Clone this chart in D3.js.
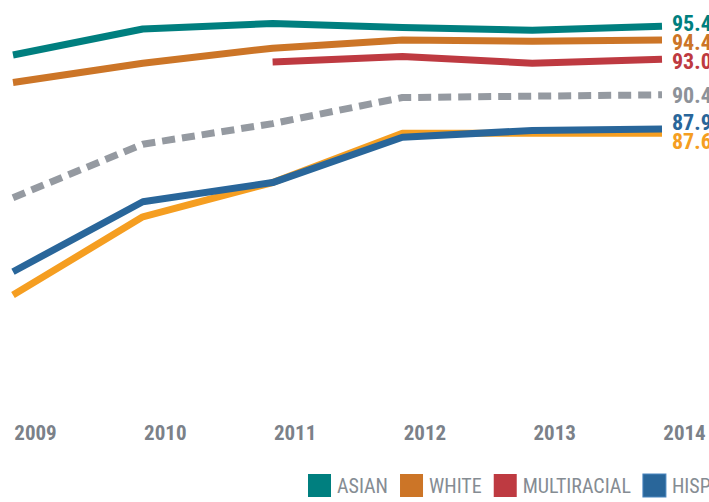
<!DOCTYPE html>
<html>
<head>
<meta charset="utf-8">
<script src="https://cdn.jsdelivr.net/npm/d3@7"></script>
<style>
  html, body { margin: 0; padding: 0; background: #ffffff; }
  svg { display: block; }
  .narrow { font-family: "Liberation Sans Narrow", "Roboto Condensed", "DejaVu Sans Condensed", "Liberation Sans", sans-serif; }
</style>
</head>
<body>
<svg id="chart" width="709" height="502"></svg>
<script>
// School years shown on the x axis
const years = ["2009", "2010", "2011", "2012", "2013", "2014"];

// Rates by student group (percent); null = not reported that year
const asian       = [93.3, 95.2, 95.6, 95.3, 95.1, 95.4];
const white       = [91.3, 92.7, 93.8, 94.4, 94.3, 94.4];
const multiracial = [null, null, 92.8, 93.2, 92.7, 93.0];
const allStudents = [82.9, 86.8, 88.3, 90.2, 90.3, 90.4];
const black       = [75.8, 81.5, 84.0, 87.6, 87.6, 87.6];
const hispanic    = [77.5, 82.6, 84.0, 87.3, 87.8, 87.9];

// Legend entries and colours
const legendNames  = ["ASIAN", "WHITE", "MULTIRACIAL", "HISPANIC"];
const legendColors = ["#007f7f", "#cc7527", "#be3a41", "#29669a"];

const series = [
  { name: "ASIAN",        values: asian,       color: "#007f7f", label: "#007f7f", dashed: false },
  { name: "WHITE",        values: white,       color: "#cc7527", label: "#cc7527", dashed: false },
  { name: "MULTIRACIAL",  values: multiracial, color: "#be3a41", label: "#be3a41", dashed: false },
  { name: "ALL STUDENTS", values: allStudents, color: "#959aa1", label: "#8d9299", dashed: true },
  { name: "BLACK",        values: black,       color: "#f59e21", label: "#f59e21", dashed: false },
  { name: "HISPANIC",     values: hispanic,    color: "#29669a", label: "#29669a", dashed: false }
];

const svg = d3.select("#chart");

const x = d3.scalePoint().domain(years).range([13, 662]);
const y = d3.scaleLinear().domain([75, 96]).range([306, 18]);

const line = d3.line()
  .defined(d => d.v != null)
  .x(d => x(d.year))
  .y(d => y(d.v));

// Lines
svg.append("g")
  .selectAll("path")
  .data(series)
  .join("path")
  .attr("fill", "none")
  .attr("stroke", d => d.color)
  .attr("stroke-width", 7)
  .attr("stroke-linejoin", "round")
  .attr("stroke-dasharray", d => d.dashed ? "13,7" : null)
  .attr("d", d => line(d.values.map((v, i) => ({ year: years[i], v }))));

// End-of-line value labels, nudged apart where they would collide
const last = years.length - 1;
const labels = series.map(s => ({ s, v: s.values[last], y: y(s.values[last]) }))
  .sort((a, b) => a.y - b.y);
const minGap = 19;
for (let it = 0; it < 60; it++) {
  for (let i = 1; i < labels.length; i++) {
    const a = labels[i - 1], b = labels[i];
    const overlap = minGap - (b.y - a.y);
    if (overlap > 0) { a.y -= overlap / 2; b.y += overlap / 2; }
  }
}
svg.append("g")
  .selectAll("text")
  .data(labels)
  .join("text")
  .attr("class", "narrow")
  .attr("x", x(years[last]) + 10)
  .attr("y", d => d.y)
  .attr("dy", "0.36em")
  .attr("fill", d => d.s.label)
  .attr("font-size", 22)
  .attr("font-weight", "bold")
  .text(d => d3.format(".1f")(d.v));

// Year labels along the bottom
const xAxis = d3.axisBottom(x).tickSize(0).tickPadding(0);
const axisG = svg.append("g")
  .attr("transform", "translate(22, 425)")
  .call(xAxis);
axisG.select(".domain").remove();
axisG.selectAll("text")
  .attr("class", "narrow")
  .attr("font-size", 21)
  .attr("font-weight", "bold")
  .attr("fill", "#7b8189")
  .attr("dy", "0.71em");

// Legend
const legend = svg.append("g").attr("transform", "translate(308, 474)");
let lx = 0;
legendNames.forEach((name, i) => {
  const g = legend.append("g").attr("transform", `translate(${lx},0)`);
  g.append("rect")
    .attr("width", 23).attr("height", 23)
    .attr("fill", legendColors[i])
    .attr("stroke", name === "HISPANIC" ? "#4a86bf" : "none")
    .attr("stroke-width", 1);
  const t = g.append("text")
    .attr("class", "narrow")
    .attr("x", 29)
    .attr("y", 12)
    .attr("dy", "0.36em")
    .attr("font-size", 20)
    .attr("fill", "#858c93")
    .text(name);
  lx += 29 + t.node().getComputedTextLength() + 12;
});
</script>
</body>
</html>
